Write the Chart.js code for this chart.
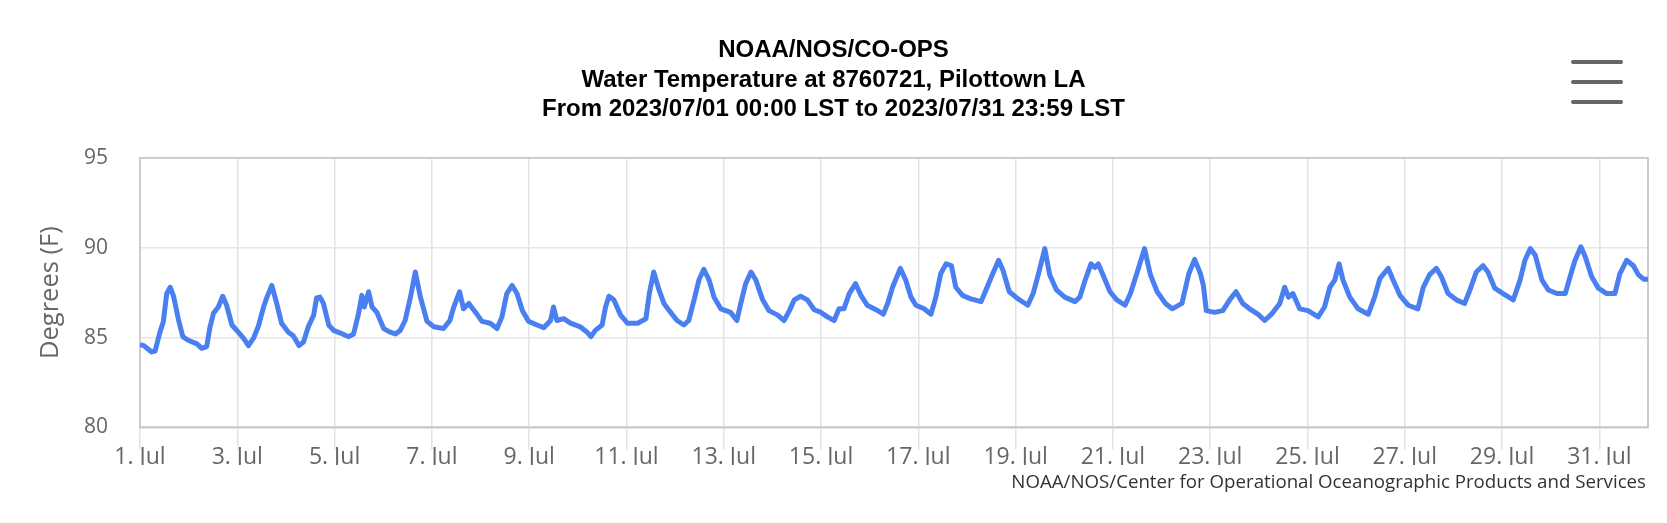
<!DOCTYPE html>
<html>
<head>
<meta charset="utf-8">
<title>Water Temperature at 8760721, Pilottown LA</title>
<script src="https://cdn.jsdelivr.net/npm/chart.js@4/dist/chart.umd.min.js"></script>
<style>
  body { margin: 0; background: #fff; }
  #wrap { position: relative; width: 1667px; height: 523px; }
  .menu { position: absolute; left: 1571px; width: 52px; height: 4px; background: #666; border-radius: 2px; }
</style>
</head>
<body>
<div id="wrap">
  <canvas id="waterTemp"></canvas>
  <div class="menu" style="top:60px"></div>
  <div class="menu" style="top:80px"></div>
  <div class="menu" style="top:100px"></div>
</div>
<script>
// days since 2023/07/01 00:00 LST
const days = [
  0.00, 0.08, 0.24, 0.31, 0.41, 0.48, 0.55, 0.62, 0.69, 0.79, 0.88, 0.99,
  1.17, 1.27, 1.37, 1.44, 1.51, 1.61, 1.70, 1.78, 1.89, 2.02, 2.13, 2.23,
  2.33, 2.43, 2.54, 2.61, 2.71, 2.81, 2.91, 3.05, 3.15, 3.27, 3.36, 3.46,
  3.57, 3.63, 3.70, 3.77, 3.88, 3.98, 4.12, 4.29, 4.39, 4.49, 4.56, 4.61,
  4.70, 4.77, 4.87, 5.01, 5.14, 5.25, 5.35, 5.45, 5.56, 5.66, 5.76, 5.90,
  6.04, 6.24, 6.37, 6.45, 6.57, 6.65, 6.76, 6.90, 7.03, 7.20, 7.34, 7.44,
  7.54, 7.65, 7.75, 7.86, 7.99, 8.16, 8.30, 8.44, 8.50, 8.57, 8.71, 8.85,
  9.05, 9.19, 9.27, 9.36, 9.50, 9.57, 9.64, 9.74, 9.88, 10.02, 10.23, 10.40,
  10.47, 10.56, 10.67, 10.77, 10.91, 11.04, 11.18, 11.28, 11.39, 11.49, 11.59, 11.70,
  11.80, 11.94, 12.14, 12.27, 12.35, 12.45, 12.56, 12.66, 12.80, 12.93, 13.11, 13.24,
  13.35, 13.45, 13.58, 13.72, 13.86, 14.00, 14.13, 14.27, 14.37, 14.47, 14.58, 14.71,
  14.82, 14.95, 15.13, 15.28, 15.37, 15.47, 15.63, 15.74, 15.85, 15.95, 16.12, 16.26,
  16.36, 16.46, 16.57, 16.68, 16.77, 16.91, 17.08, 17.29, 17.39, 17.53, 17.65, 17.74,
  17.87, 18.05, 18.25, 18.36, 18.47, 18.60, 18.70, 18.84, 19.01, 19.22, 19.32, 19.43,
  19.55, 19.63, 19.70, 19.81, 19.94, 20.08, 20.25, 20.36, 20.49, 20.65, 20.77, 20.91,
  21.08, 21.22, 21.42, 21.56, 21.68, 21.80, 21.86, 21.92, 22.09, 22.26, 22.40, 22.53,
  22.67, 22.81, 22.98, 23.12, 23.26, 23.43, 23.53, 23.61, 23.70, 23.84, 24.01, 24.22,
  24.35, 24.46, 24.56, 24.65, 24.73, 24.87, 25.04, 25.25, 25.38, 25.49, 25.66, 25.76,
  25.90, 26.07, 26.27, 26.38, 26.51, 26.65, 26.75, 26.89, 27.06, 27.23, 27.34, 27.47,
  27.61, 27.71, 27.85, 28.02, 28.23, 28.37, 28.47, 28.58, 28.68, 28.82, 28.95, 29.13,
  29.30, 29.40, 29.50, 29.62, 29.71, 29.84, 29.98, 30.15, 30.32, 30.42, 30.56, 30.70,
  30.80, 30.91, 31.00
];
// water temperature, degrees F
const temps = [
  84.6, 84.55, 84.2, 84.25, 85.3, 85.9, 87.45, 87.8, 87.3, 86.0, 85.05, 84.85,
  84.65, 84.4, 84.5, 85.6, 86.35, 86.7, 87.3, 86.8, 85.7, 85.3, 84.95, 84.55,
  84.95, 85.6, 86.7, 87.25, 87.9, 86.9, 85.8, 85.3, 85.1, 84.55, 84.75, 85.6,
  86.25, 87.2, 87.25, 86.9, 85.7, 85.4, 85.25, 85.05, 85.2, 86.3, 87.35, 86.7,
  87.55, 86.7, 86.4, 85.5, 85.3, 85.2, 85.4, 85.95, 87.25, 88.65, 87.3, 85.9,
  85.6, 85.5, 85.95, 86.7, 87.55, 86.6, 86.9, 86.4, 85.9, 85.8, 85.5, 86.15,
  87.45, 87.9, 87.45, 86.5, 85.9, 85.7, 85.55, 85.95, 86.7, 85.95, 86.05, 85.8,
  85.6, 85.3, 85.05, 85.4, 85.7, 86.7, 87.3, 87.1, 86.25, 85.8, 85.8, 86.05,
  87.45, 88.65, 87.65, 86.9, 86.4, 85.95, 85.7, 85.95, 87.1, 88.2, 88.8, 88.2,
  87.25, 86.6, 86.4, 85.95, 86.9, 88.0, 88.65, 88.2, 87.1, 86.5, 86.25, 85.95,
  86.5, 87.1, 87.3, 87.1, 86.55, 86.4, 86.15, 85.95, 86.6, 86.6, 87.45, 88.0,
  87.35, 86.8, 86.55, 86.3, 86.9, 87.8, 88.85, 88.2, 87.25, 86.8, 86.6, 86.3,
  87.25, 88.55, 89.1, 89.0, 87.8, 87.35, 87.15, 87.0, 87.65, 88.55, 89.3, 88.75,
  87.55, 87.15, 86.8, 87.45, 88.55, 89.95, 88.5, 87.65, 87.25, 87.0, 87.25, 88.2,
  89.1, 88.9, 89.1, 88.4, 87.55, 87.1, 86.8, 87.45, 88.55, 89.95, 88.5, 87.55,
  86.9, 86.6, 86.9, 88.55, 89.35, 88.55, 87.9, 86.5, 86.4, 86.5, 87.1, 87.55,
  86.9, 86.6, 86.3, 85.95, 86.3, 86.9, 87.8, 87.25, 87.45, 86.6, 86.5, 86.15,
  86.7, 87.8, 88.2, 89.1, 88.2, 87.25, 86.6, 86.3, 87.25, 88.3, 88.85, 88.2,
  87.35, 86.8, 86.6, 87.8, 88.5, 88.85, 88.4, 87.45, 87.1, 86.9, 87.65, 88.65,
  89.0, 88.65, 87.75, 87.45, 87.1, 88.2, 89.3, 89.95, 89.6, 88.2, 87.65, 87.45,
  87.45, 88.4, 89.3, 90.05, 89.5, 88.4, 87.75, 87.45, 87.45, 88.55, 89.3, 89.0,
  88.5, 88.25, 88.25
];
const tickDays = [0, 2, 4, 6, 8, 10, 12, 14, 16, 18, 20, 22, 24, 26, 28, 30];
const tickLabels = ['1. Jul', '3. Jul', '5. Jul', '7. Jul', '9. Jul', '11. Jul', '13. Jul', '15. Jul',
                    '17. Jul', '19. Jul', '21. Jul', '23. Jul', '25. Jul', '27. Jul', '29. Jul', '31. Jul'];
const yTicks = [80, 85, 90, 95];
const titleLines = [
  'NOAA/NOS/CO-OPS',
  'Water Temperature at 8760721, Pilottown LA',
  'From 2023/07/01 00:00 LST to 2023/07/31 23:59 LST'
];
const credits = 'NOAA/NOS/Center for Operational Oceanographic Products and Services';

const sans = '"Open Sans", "DejaVu Sans", sans-serif';

// plot frame and credits line
const extras = {
  id: 'extras',
  beforeDatasetsDraw(chart) {
    const {ctx, chartArea: a} = chart;
    ctx.save();
    ctx.strokeStyle = '#cccccc';
    ctx.lineWidth = 2;
    ctx.strokeRect(a.left, a.top, a.right - a.left, a.bottom - a.top);
    ctx.restore();
  },
  afterDraw(chart) {
    const ctx = chart.ctx;
    ctx.save();
    ctx.font = '18.7px ' + sans;
    ctx.fillStyle = '#333333';
    ctx.textAlign = 'right';
    ctx.textBaseline = 'middle';
    ctx.fillText(credits, 1646, 483);
    ctx.restore();
  }
};

const waterTemp = document.getElementById('waterTemp').getContext('2d');
new Chart(waterTemp, {
    type: 'line',
    data: {
        datasets: [{
            label: 'Water Temperature',
            data: days.map((d, i) => ({x: d, y: temps[i]})),
            borderColor: '#4a7ff2',
            borderWidth: 5,
            borderJoinStyle: 'round',
            pointRadius: 0,
            tension: 0
        }]
    },
    options: {
        responsive: true,
        maintainAspectRatio: false,
        animation: false,
        layout: {
            padding: {left: 0, right: 0, top: 0, bottom: 58}
        },
        plugins: {
            legend: {display: false},
            tooltip: {enabled: false},
            title: {
                display: true,
                text: titleLines,
                color: '#000000',
                font: {family: '"Liberation Sans", Arial, sans-serif', size: 24, weight: 'bold', lineHeight: 1.225},
                padding: {top: 36, bottom: 33.7}
            }
        },
        scales: {
            x: {
                type: 'linear',
                min: 0,
                max: 31,
                afterBuildTicks: s => { s.ticks = tickDays.map(v => ({value: v})); },
                grid: {color: '#e2e2ea', lineWidth: 1.5, tickLength: 22},
                border: {display: true, color: '#ccd6eb', width: 2},
                ticks: {
                    padding: -6,
                    color: '#666666',
                    maxRotation: 0,
                    autoSkip: false,
                    font: {family: sans, size: 23},
                    callback: v => tickLabels[tickDays.indexOf(v)]
                }
            },
            y: {
                min: 80,
                max: 95,
                afterBuildTicks: s => { s.ticks = yTicks.map(v => ({value: v})); },
                afterFit: s => { s.width = 140; },
                grid: {color: '#e6e6e6', lineWidth: 1.5, drawTicks: false},
                border: {display: false},
                ticks: {padding: 32, color: '#666666', font: {family: sans, size: 21}},
                title: {
                    display: true,
                    text: 'Degrees (F)',
                    color: '#666666',
                    font: {family: sans, size: 25.5},
                    padding: {top: 35.7, bottom: 0}
                }
            },
            // empty right-hand strip so the title stays centred on the page
            yRight: {
                position: 'right',
                display: true,
                afterFit: s => { s.width = 19; },
                grid: {display: false},
                border: {display: false},
                ticks: {display: false}
            }
        }
    },
    plugins: [extras]
});
</script>
</body>
</html>
